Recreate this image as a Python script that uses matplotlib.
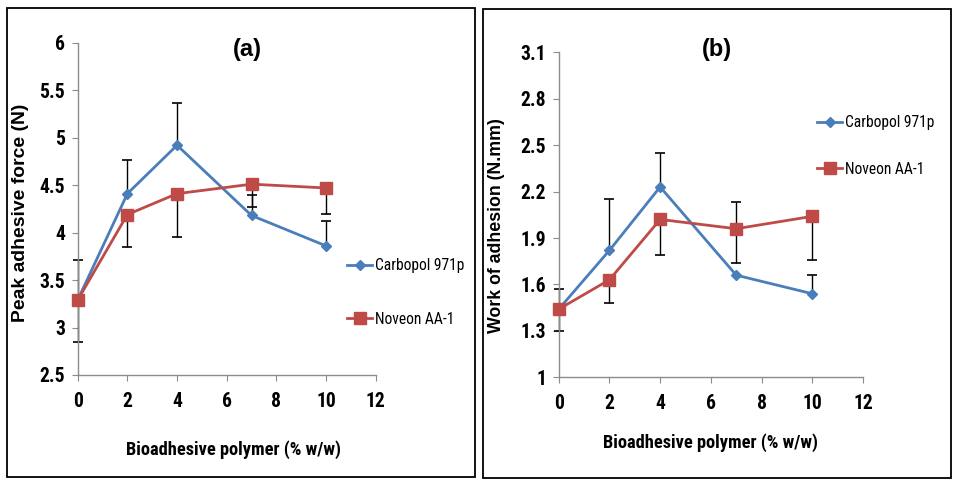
import matplotlib
matplotlib.use("Agg")
import matplotlib.pyplot as plt
from matplotlib.patches import Rectangle
from matplotlib import font_manager
import numpy as np

# ---------------- data ----------------
conc = [0, 2, 4, 7, 10]
series_names = ["Carbopol 971p", "Noveon AA-1"]

carbopol_force = [3.29, 4.41, 4.92, 4.18, 3.86]
carbopol_force_err_up = [0.42, 0.35, 0.45, 0.22, 0.26]
carbopol_force_err_down = [0, 0, 0, 0, 0]
noveon_force = [3.29, 4.19, 4.41, 4.51, 4.47]
noveon_force_err_up = [0, 0, 0, 0, 0]
noveon_force_err_down = [0.44, 0.34, 0.46, 0.24, 0.27]

carbopol_work = [1.44, 1.82, 2.23, 1.66, 1.54]
carbopol_work_err_up = [0.13, 0.33, 0.22, 0, 0.12]
carbopol_work_err_down = [0, 0, 0, 0, 0]
noveon_work = [1.44, 1.63, 2.02, 1.96, 2.04]
noveon_work_err_up = [0, 0, 0, 0.17, 0]
noveon_work_err_down = [0.14, 0.15, 0.23, 0.22, 0.28]

x_ticks = [0, 2, 4, 6, 8, 10, 12]
force_ticks = [2.5, 3, 3.5, 4, 4.5, 5, 5.5, 6]
force_tick_labels = ["2.5", "3", "3.5", "4", "4.5", "5", "5.5", "6"]
work_ticks = [1, 1.3, 1.6, 1.9, 2.2, 2.5, 2.8, 3.1]
work_tick_labels = ["1", "1.3", "1.6", "1.9", "2.2", "2.5", "2.8", "3.1"]
x_label = "Bioadhesive polymer (% w/w)"

# ---------------- style ----------------
avail = {f.name for f in font_manager.fontManager.ttflist}
narrow = "Liberation Sans"
for cand in ["Liberation Sans Narrow", "Arial Narrow", "Roboto Condensed", "PT Sans Narrow", "Archivo Narrow"]:
    if cand in avail:
        narrow = cand
        break
wide = "Liberation Sans"

BLUE = "#4a7ebb"
RED = "#be4b48"
GRAY = "#8c8c8c"

W, H = 958, 486
fig = plt.figure(figsize=(W / 100, H / 100), dpi=100)
renderer = fig.canvas.get_renderer()


def fit_size(text, family, weight, target_px, ref=10.0):
    t = fig.text(0, 0, text, family=family, fontweight=weight, fontsize=ref)
    w = t.get_window_extent(renderer).width
    t.remove()
    return ref * target_px / w


tick_size = fit_size("10", narrow, "bold", 20)
legend_size = fit_size("Carbopol 971p", narrow, "normal", 90)
xlabel_size = fit_size(x_label, narrow, "bold", 216)


def fx(px):
    return px / W


def fy(py):
    return 1 - py / H


# panel frames
for (x0, y0, x1, y1) in [(7, 8, 475, 477), (483, 9, 951, 478)]:
    fig.patches.append(Rectangle((fx(x0), fy(y1)), fx(x1 - x0), (y1 - y0) / H,
                                 transform=fig.transFigure, fill=False,
                                 edgecolor="black", linewidth=1.3, zorder=0))


def draw_err(ax, x, y, lo, hi):
    x = np.array(x, float); y = np.array(y, float)
    lo = np.array(lo, float); hi = np.array(hi, float)
    m = (lo + hi) > 0
    ax.errorbar(x[m], y[m], yerr=[lo[m], hi[m]], fmt="none", ecolor="black",
                elinewidth=1.0, capsize=0, zorder=2, clip_on=False)
    mu = hi > 0
    ax.plot(x[mu], (y + hi)[mu], ls="none", marker="_", ms=7, mew=1.2,
            color="black", zorder=2, clip_on=False)
    md = lo > 0
    ax.plot(x[md], (y - lo)[md], ls="none", marker="_", ms=7, mew=1.2,
            color="black", zorder=2, clip_on=False)


def setup(ax, yticks, ylabels, ylim):
    ax.set_xlim(0, 12)
    ax.set_ylim(*ylim)
    for s in ["top", "right"]:
        ax.spines[s].set_visible(False)
    for s in ["left", "bottom"]:
        ax.spines[s].set_color(GRAY)
        ax.spines[s].set_linewidth(1.0)
    ax.set_xticks(x_ticks)
    ax.set_xticklabels([str(t) for t in x_ticks])
    ax.set_yticks(yticks)
    ax.set_yticklabels(ylabels)
    ax.tick_params(axis="x", direction="out", length=4, color=GRAY, pad=8)
    ax.tick_params(axis="y", direction="out", length=4, color=GRAY, pad=5)
    for lab in ax.get_xticklabels() + ax.get_yticklabels():
        lab.set_fontfamily(narrow)
        lab.set_fontweight("bold")
        lab.set_fontsize(tick_size)


panels = [
    dict(rect=(77.7, 42.7, 375.7, 375.0), ylim=(2.5, 6), yt=force_ticks, yl=force_tick_labels,
         c=carbopol_force, cu=carbopol_force_err_up, cd=carbopol_force_err_down,
         n=noveon_force, nu=noveon_force_err_up, nd=noveon_force_err_down,
         title="(a)", tpos=(0.571, 0.981), ylabel="Peak adhesive force (N)", ylw=218,
         ylpos=(-0.163, 0.489), xlpos=(0.524, -0.196),
         leg=(347, 264, 321)),
    dict(rect=(558.7, 52.3, 863.0, 377.3), ylim=(1, 3.1), yt=work_ticks, yl=work_tick_labels,
         c=carbopol_work, cu=carbopol_work_err_up, cd=carbopol_work_err_down,
         n=noveon_work, nu=noveon_work_err_up, nd=noveon_work_err_down,
         title="(b)", tpos=(0.521, 1.009), ylabel="Work of adhesion (N.mm)", ylw=215,
         ylpos=(-0.177, 0.466), xlpos=(0.4995, -0.172),
         leg=(817, 121, 171)),
]

for p in panels:
    x0, y0, x1, y1 = p["rect"]
    ax = fig.add_axes([fx(x0), fy(y1), fx(x1 - x0), (y1 - y0) / H])
    setup(ax, p["yt"], p["yl"], p["ylim"])
    draw_err(ax, conc, p["c"], p["cd"], p["cu"])
    draw_err(ax, conc, p["n"], p["nd"], p["nu"])
    l1, = ax.plot(conc, p["c"], color=BLUE, lw=2.0, marker="D", ms=5.5,
                  mfc=BLUE, mec=BLUE, zorder=3, clip_on=False, label=series_names[0])
    l2, = ax.plot(conc, p["n"], color=RED, lw=2.0, marker="s", ms=8,
                  mfc=RED, mec=RED, zorder=3, clip_on=False, label=series_names[1])
    ax.text(p["tpos"][0], p["tpos"][1], p["title"], transform=ax.transAxes,
            ha="center", va="center", fontsize=17, fontweight="bold", family=wide)
    ylsize = fit_size(p["ylabel"], wide, "bold", p["ylw"])
    ax.set_ylabel(p["ylabel"], fontsize=ylsize, fontweight="bold", family=wide)
    ax.yaxis.set_label_coords(*p["ylpos"])
    ax.set_xlabel(x_label, fontsize=xlabel_size, fontweight="bold", family=narrow)
    ax.xaxis.set_label_coords(*p["xlpos"])
    lx, ly1, ly2 = p["leg"]
    fs_px = legend_size * 100 / 72
    fig.legend([l1, l2], series_names, loc="center left",
               bbox_to_anchor=(fx(lx), fy((ly1 + ly2) / 2)),
               frameon=False, borderpad=0, borderaxespad=0,
               handlelength=25 / fs_px, handletextpad=3 / fs_px,
               labelspacing=(ly2 - ly1) / fs_px - 1.2,
               prop=dict(family=narrow, size=legend_size))

fig.savefig("out.png", dpi=100)
